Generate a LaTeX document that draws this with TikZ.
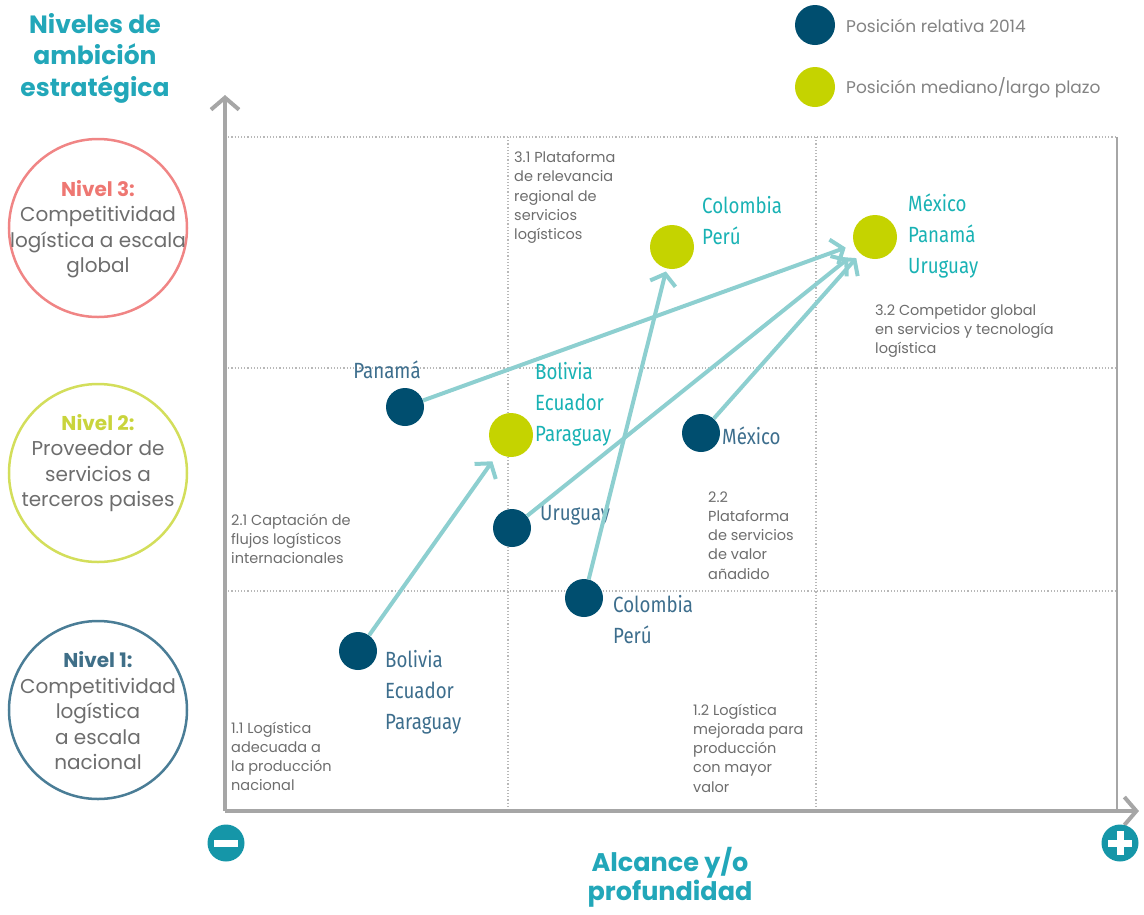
\documentclass[tikz,border=0pt]{standalone}
\usepackage{fontspec}
\setmainfont{Poppins}
\newfontfamily\cfont[FakeStretch=0.85]{Fira Sans}
\usetikzlibrary{arrows.meta}
\definecolor{axisgray}{HTML}{A6A6A6}
\definecolor{gridgray}{HTML}{B8B8B8}
\definecolor{titleteal}{HTML}{22A7B9}
\definecolor{arrowteal}{HTML}{8DCFD0}
\definecolor{darkdot}{HTML}{004E6F}
\definecolor{yelldot}{HTML}{C5D300}
\definecolor{pinkc}{HTML}{F08585}
\definecolor{pinkt}{HTML}{EE7772}
\definecolor{lvltwo}{HTML}{D3DE5B}
\definecolor{lvltwot}{HTML}{C9D43C}
\definecolor{lvlone}{HTML}{4A7D96}
\definecolor{lvlonet}{HTML}{3F6F88}
\definecolor{txtgray}{HTML}{6D6D6D}
\definecolor{darklab}{HTML}{3D6E8D}
\definecolor{teallab}{HTML}{19B2B4}
\definecolor{iconteal}{HTML}{1596A8}
\begin{document}
\begin{tikzpicture}[x=1pt,y=-1pt,
  gridline/.style={gridgray, line width=1.2pt, dotted},
  axisline/.style={axisgray, line width=4pt, -{Straight Barb[length=12pt,width=28pt]}},
  lvlcirc/.style={circle, minimum size=178pt, inner sep=0pt, line width=2.5pt},
  lvltext/.style={align=center, text=txtgray, font=\fontsize{20}{25.5}\selectfont},
  ddot/.style={circle, fill=darkdot, minimum size=38pt, inner sep=0pt},
  ydot/.style={circle, fill=yelldot, minimum size=44pt, inner sep=0pt},
  dlab/.style={anchor=west, align=left, inner sep=0pt, text=darklab, font=\cfont\fontsize{22}{31}\selectfont},
  ylab/.style={anchor=west, align=left, inner sep=0pt, text=teallab, font=\cfont\fontsize{22}{31}\selectfont},
  qtext/.style={anchor=west, align=left, inner sep=0pt, text=txtgray, font=\fontsize{14.5}{19.2}\selectfont},
  arr/.style={arrowteal, line width=4pt, -{Straight Barb[length=10pt,width=26pt]}},
  title/.style={align=center, text=titleteal, font=\bfseries\fontsize{25}{31.5}\selectfont},
  icon/.style={circle, fill=iconteal, minimum size=37pt, inner sep=0pt},
  legtext/.style={anchor=west, inner sep=0pt, text=txtgray!85, font=\fontsize{17}{20}\selectfont}
]
\useasboundingbox (0,0) rectangle (1144,914);

% grid
\draw[gridline] (225,137) -- (1117,137);
\draw[gridline] (225,368) -- (1117,368);
\draw[gridline] (225,591) -- (1117,591);
\draw[gridline] (508,137) -- (508,811);
\draw[gridline] (816,137) -- (816,811);
\draw[axisgray, line width=1.5pt] (1117,137) -- (1117,811);

% axes
\coordinate (org) at (225,811);
\coordinate (ytip) at (225,95);
\coordinate (xtip) at (1139,811);
\draw[axisline] (org) -- (ytip);
\draw[axisline] (org) -- (xtip);

% titles
\node[title] (ttl) at (95,58) {Niveles de\\ambición\\estratégica};
\node[title, font=\bfseries\fontsize{25.5}{29}\selectfont] (xttl) at (670,877) {Alcance y/o\\profundidad};

% legend
\node[ddot, minimum size=40pt] (legd) at (815,25) {};
\node[legtext] (legdt) at (846,26) {Posición relativa 2014};
\node[ydot, minimum size=40pt] (legy) at (815,87) {};
\node[legtext] (legyt) at (846,88) {Posición mediano/largo plazo};

% level circles
\node[lvlcirc, draw=pinkc] (n3) at (98,228) {};
\node[lvltext] (n3t) at (98,229) {\textbf{\color{pinkt}Nivel 3:}\\Competitividad\\logística a escala\\global};
\node[lvlcirc, draw=lvltwo] (n2) at (98,473) {};
\node[lvltext] (n2t) at (98,463) {\textbf{\color{lvltwot}Nivel 2:}\\Proveedor de\\servicios a\\terceros paises};
\node[lvlcirc, draw=lvlone] (n1) at (98,710) {};
\node[lvltext] (n1t) at (98,711) {\textbf{\color{lvlonet}Nivel 1:}\\Competitividad\\logística\\a escala\\nacional};

% quadrant texts
\node[qtext] (q31) at (514,197.5) {3.1 Plataforma\\de relevancia\\regional de\\servicios\\logísticos};
\node[qtext] (q32) at (875,331) {3.2 Competidor global\\en servicios y tecnología\\logística};
\node[qtext] (q21) at (231,539) {2.1 Captación de\\flujos logísticos\\internacionales};
\node[qtext] (q22) at (708,535.5) {2.2\\Plataforma\\de servicios\\de valor\\añadido};
\node[qtext] (q11) at (231,756.5) {1.1 Logística\\adecuada a\\la producción\\nacional};
\node[qtext] (q12) at (693,748) {1.2 Logística\\mejorada para\\producción\\con mayor\\valor};

% target dots
\node[ydot] (ybol) at (511,435) {};
\node[ydot] (ycol) at (672,247) {};
\node[ydot] (ymex) at (875,237) {};
\node[ylab] (ybolt) at (535,404) {Bolivia\\Ecuador\\Paraguay};
\node[ylab] (ycolt) at (702,220.5) {Colombia\\Perú};
\node[ylab] (ymext) at (908,236) {México\\Panamá\\Uruguay};

% current dots
\node[ddot] (pan) at (405,407) {};
\node[ddot] (uru) at (512,528) {};
\node[ddot] (col) at (584,598) {};
\node[ddot] (mex) at (701,433) {};
\node[ddot] (bol) at (358,651) {};
\node[dlab, anchor=center] (pant) at (387,370) {Panamá};
\node[dlab] (urut) at (540,515) {Uruguay};
\node[dlab] (colt) at (613,620) {Colombia\\Perú};
\node[dlab] (mext) at (722,436) {México};
\node[dlab] (bolt) at (385,692) {Bolivia\\Ecuador\\Paraguay};

% arrows
\draw[arr, shorten >=10pt] (bol) -- (ybol);
\draw[arr, shorten >=9pt] (pan) -- (ymex);
\draw[arr, shorten >=12pt] (uru) -- (ymex);
\draw[arr, shorten >=6pt] (mex) -- (ymex);
\draw[arr, shorten >=3pt] (col) -- (ycol);

% icons
\node[icon] (minus) at (226,843) {};
\fill[white] (214,839.5) rectangle (238,846.5);
\node[icon] (plus) at (1120,843) {};
\fill[white] (1108,839.5) rectangle (1132,846.5);
\fill[white] (1116.5,831) rectangle (1123.5,855);
\end{tikzpicture}
\end{document}
